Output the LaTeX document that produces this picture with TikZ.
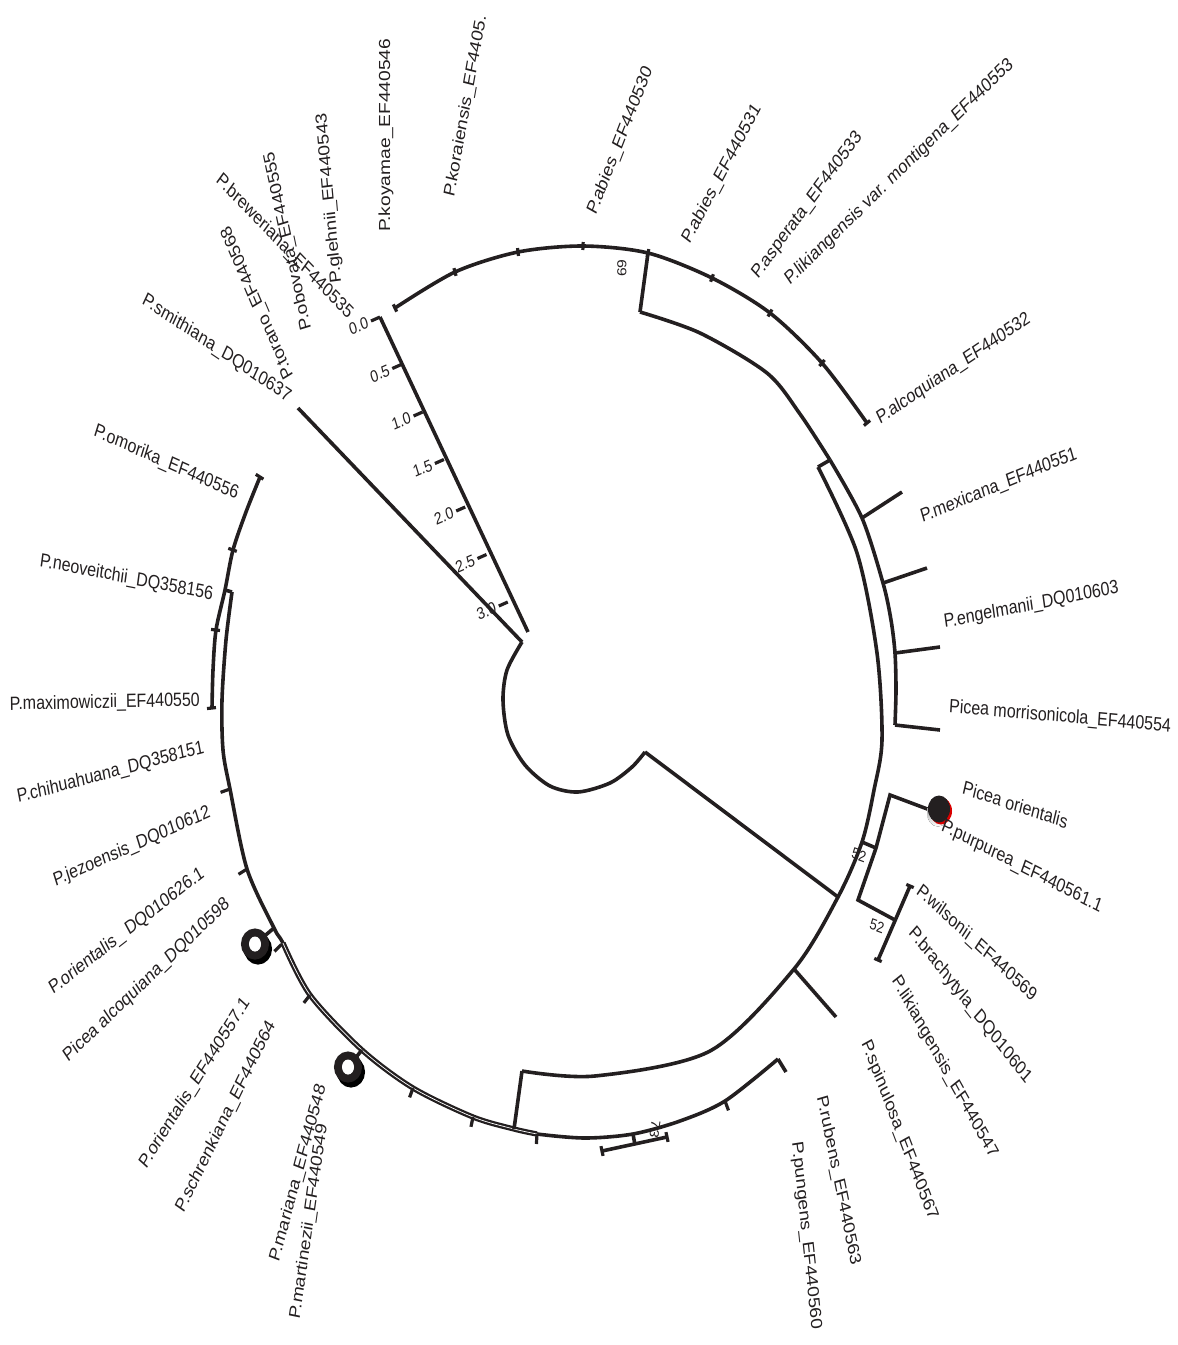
\documentclass[tikz,border=0pt]{standalone}
\usepackage{fontspec}
\setmainfont{Liberation Sans}
\usetikzlibrary{calc}
\definecolor{ink}{RGB}{35,31,32}
\definecolor{shade}{RGB}{190,190,190}

\begin{document}
\begin{tikzpicture}[x=1pt, y=-1pt,
    branch/.style={draw=ink, line width=3.6pt, line join=miter},
    tipmark/.style={draw=ink, line width=3.2pt},
    twin/.style={draw=ink, line width=2.3pt, double=white, double distance=0.7pt},
    taxon/.style={font=\fontsize{16}{16}\selectfont, text=ink, inner sep=0pt, yscale=1.2},
    boot/.style={font=\fontsize{13}{13}\selectfont, text=ink, inner sep=0pt, yscale=1.2},
    scalelab/.style={font=\fontsize{14}{14}\selectfont, text=ink, inner sep=0pt, yscale=1.2, anchor=east, rotate=20}
]
\useasboundingbox (0,0) rectangle (1178,1345);
\coordinate (ctr) at (565,670);

% top clade
\coordinate (t1) at (395,308);
\coordinate (t2) at (455,272);
\coordinate (t3) at (518,252);
\coordinate (t4) at (583,246);
\coordinate (n69) at (648,253);
\coordinate (t5) at (712,278);
\coordinate (t6) at (770,313);
\coordinate (t7) at (822,363);
\coordinate (t8) at (867,423);
\draw[branch] plot[smooth] coordinates {(t1) (t2) (t3) (t4) (n69) (t5) (t6) (t7) (t8)};
\foreach \p in {t1,t2,t3,t4,n69,t5,t6,t7,t8}
  \draw[tipmark] ($(\p)!4pt!(ctr)$) -- ($(\p)!-4pt!(ctr)$);

\coordinate (c69) at (640,312);
\coordinate (k1) at (830,460);
\coordinate (k2) at (818,467);
\draw[branch] (n69) -- (c69);
\draw[branch] plot[smooth] coordinates {(c69) (700,333) (767,373) (800,414) (k1)};
\draw[branch] (k1) -- (k2);

% mexicana group
\coordinate (m1) at (862,518);
\coordinate (m2) at (883,583);
\coordinate (m3) at (895,653);
\coordinate (m4) at (895,725);
\draw[branch] plot[smooth] coordinates {(k1) (m1) (m2) (891,620) (m3) (896,690) (m4)};
\draw[branch] (m4) -- (940,730);
\draw[branch] (m1) -- (902,492);
\draw[branch] (m2) -- (927,568);
\draw[branch] (m3) -- (940,647);

% main arc, right side
\coordinate (a52) at (862,842);
\coordinate (aj) at (838,897);
\coordinate (asp) at (794,969);
\coordinate (acor) at (522,1071);
\draw[branch] plot[smooth] coordinates {(k2) (857,553) (877,653) (882,740) (874,790) (a52) (aj) (asp) (710,1051) (595,1076) (acor)};

% purpurea / wilsonii group
\coordinate (b1) at (890,795);
\coordinate (b2) at (876,848);
\coordinate (b3) at (858,900);
\coordinate (dot) at (939,809);
\coordinate (w0) at (895,920);
\coordinate (w1) at (910,886);
\coordinate (w2) at (878,960);
\draw[branch] (930,810) -- (b1) -- (b2) -- (b3) -- (w0);
\draw[branch] (a52) -- (b2);
\draw[branch] (w1) -- (w2);
\foreach \a/\b in {w1/w2,w2/w1}
  \draw[tipmark] ($(\a)!4pt!90:(\b)$) -- ($(\a)!-4pt!90:(\b)$);
\fill[shade] ($(dot)+(-1,4)$) ellipse [x radius=11pt, y radius=13.5pt];
\fill[red!85!black] ($(dot)+(2,2)$) ellipse [x radius=11pt, y radius=13.5pt];
\fill[ink] (dot) ellipse [x radius=11pt, y radius=13.5pt];

% spinulosa
\draw[branch] (asp) -- (836,1017);

% root
\coordinate (ir0) at (522,642);
\coordinate (ie) at (645,752);
\coordinate (sm) at (298,408);
\draw[branch] plot[smooth] coordinates {(ir0) (507,670) (503,700) (508,735) (525,765) (550,786) (578,792) (610,783) (632,767) (ie)};
\draw[branch] (sm) -- (ir0);
\draw[branch] (ie) -- (aj);

% scale bar
\coordinate (sb0) at (380,317);
\coordinate (sb1) at (528,632);
\draw[branch] (sb0) -- (sb1);
\foreach \k/\v in {0/0.0,1/0.5,2/1.0,3/1.5,4/2.0,5/2.5,6/3.0} {
  \coordinate (sk\k) at ($(sb0)+(21.3*\k,47.5*\k)$);
  \draw[tipmark] (sk\k) -- ++(-9,4);
  \node[scalelab] (sl\k) at ($(sk\k)+(-12,5)$) {\v};
}

% left clades
\coordinate (o1) at (260,477);
\coordinate (o2) at (233,550);
\coordinate (bx1) at (225,590);
\coordinate (o3) at (216,630);
\coordinate (o4) at (212,708);
\coordinate (bx2) at (232,592);
\draw[branch] plot[smooth] coordinates {(o1) (246,512) (o2) (bx1) (o3) (213,670) (o4)};
\draw[branch] (bx1) -- (bx2);
\foreach \p in {o1,o2,o3,o4}
  \draw[tipmark] ($(\p)!4pt!(ctr)$) -- ($(\p)!-5pt!(ctr)$);

\coordinate (lt1) at (230,789);
\coordinate (lt2) at (247,869);
\coordinate (lm1) at (274,928);
\coordinate (ld) at (283,943);
\coordinate (lt3) at (310,995);
\coordinate (lm2) at (362,1050);
\coordinate (lt4) at (413,1088);
\coordinate (lt5) at (473,1117);
\coordinate (lv) at (514,1129);
\coordinate (lt6) at (537,1134);
\coordinate (n73) at (633,1134);
\coordinate (lt7) at (725,1101);
\coordinate (lend) at (778,1059);
\draw[branch] plot[smooth] coordinates {(bx2) (226,640) (222,700) (223,750) (lt1) (lt2) (lm1) (ld) (lt3) (lm2) (lt4) (lt5) (lv) (lt6) (585,1138) (n73) (680,1121) (lt7) (lend)};
\draw[twin] plot[smooth] coordinates {(ld) (lt3) (lm2) (lt4) (lt5) (lv) (lt6)};
\draw[branch] (lend) -- (786,1072);
\draw[branch] (acor) -- (lv);
\foreach \p in {lt1,lt2,lt3,lt4,lt5,lt6,lt7}
  \draw[tipmark] (\p) -- ($(\p)!-10pt!(ctr)$);
\draw[tipmark] ($(ld)!-2pt!(ctr)$) -- ($(ld)!-12pt!(ctr)$);

% 73 bar
\coordinate (q1) at (602,1151);
\coordinate (q2) at (667,1137);
\draw[branch] (n73) -- (635,1145);
\draw[branch] (q1) -- (q2);
\foreach \a/\b in {q1/q2,q2/q1}
  \draw[tipmark] ($(\a)!5pt!90:(\b)$) -- ($(\a)!-5pt!90:(\b)$);

% open markers
\coordinate (circ1) at (255,944);
\coordinate (circ2) at (348,1067);
\draw[branch] (lm1) -- (circ1);
\draw[branch] (lm2) -- (circ2);
\foreach \c in {circ1,circ2} {
  \draw[shade, line width=8pt] ($(\c)+(3,5)$) ellipse [x radius=10pt, y radius=11.5pt];
  \draw[ink, line width=8pt] (\c) ellipse [x radius=10pt, y radius=11.5pt];
  \fill[white] (\c) ellipse [x radius=6pt, y radius=7.5pt];
}

% support values
\node[boot, rotate=90] (s69) at (622,268) {69};
\node[boot, rotate=-17] (s52a) at (859,855) {52};
\node[boot, rotate=-17] (s52b) at (877,926) {52};
\node[boot, rotate=-100] (s73) at (655,1129) {73};

% taxa, outward reading
\node[taxon, anchor=west, rotate=90] (koyamae) at (386,232) {P.koyamae\_EF440546};
\node[taxon, anchor=west, rotate=78] (koraiensis) at (450,197) {P.koraiensis\_EF4405.};
\node[taxon, anchor=west, rotate=65] (abiesa) at (592,214) {P.abies\_EF440530};
\node[taxon, anchor=west, rotate=57.6] (abiesb) at (686,242) {P.abies\_EF440531};
\node[taxon, anchor=west, rotate=48.7] (asperata) at (755,277) {P.asperata\_EF440533};
\node[taxon, anchor=west, rotate=39.2] (montigena) at (787,282) {P.likiangensis var. montigena\_EF440553};
\node[taxon, anchor=west, rotate=29.4] (alcoqa) at (878,420) {P.alcoquiana\_EF440532};
\node[taxon, anchor=west, rotate=19] (mexicana) at (921,518) {P.mexicana\_EF440551};
\node[taxon, anchor=west, rotate=9.5] (engelmanii) at (944,623) {P.engelmanii\_DQ010603};
\node[taxon, anchor=west, rotate=-4.3] (morrison) at (949,707) {Picea morrisonicola\_EF440554};
\node[taxon, anchor=west, rotate=-15.6] (orientc) at (963,787) {Picea orientalis};
\node[taxon, anchor=west, rotate=-23.3] (purpurea) at (942,826) {P.purpurea\_EF440561.1};
\node[taxon, anchor=west, rotate=-37.9] (wilsonii) at (918,889) {P.wilsonii\_EF440569};
\node[taxon, anchor=west, rotate=-46.9] (brachy) at (911,930) {P.brachytyla\_DQ010601};
\node[taxon, anchor=west, rotate=-56.4] (likiang) at (895,978) {P.likiangensis\_EF440547};
\node[taxon, anchor=west, rotate=-65.3] (spinulosa) at (865,1041) {P.spinulosa\_EF440567};
\node[taxon, anchor=west, rotate=-76.3] (rubens) at (821,1096) {P.rubens\_EF440563};
\node[taxon, anchor=west, rotate=-82.8] (pungens) at (796,1142) {P.pungens\_EF440560};
\node[taxon, anchor=west, rotate=96] (glehnii) at (337,283) {P.glehnii\_EF440543};
\node[taxon, anchor=west, rotate=104.3] (obovata) at (307,330) {P.obovata\_EF440555};
\node[taxon, anchor=west, rotate=117] (torano) at (290,378) {P.torano\_EF440568};
\node[taxon, anchor=west, rotate=-40.8] (breweriana) at (218,178) {P.breweriana\_EF440535};

% taxa, inward reading
\node[taxon, anchor=east, rotate=-29.3] (smithiana) at (290,398) {P.smithiana\_DQ010637};
\node[taxon, anchor=east, rotate=-20.4] (omorika) at (238,495) {P.omorika\_EF440556};
\node[taxon, anchor=east, rotate=-9.2] (neoveitchii) at (213,595) {P.neoveitchii\_DQ358156};
\node[taxon, anchor=east, rotate=1] (maximow) at (200,701) {P.maximowiczii\_EF440550};
\node[taxon, anchor=east, rotate=12.6] (chihuahuana) at (204,748) {P.chihuahuana\_DQ358151};
\node[taxon, anchor=east, rotate=20.4] (jezoensis) at (210,812) {P.jezoensis\_DQ010612};
\node[taxon, anchor=east, rotate=33] (orienta) at (203,872) {P.orientalis\_ DQ010626.1};
\node[taxon, anchor=east, rotate=38.8] (alcoqb) at (228,902) {Picea alcoquiana\_DQ010598};
\node[taxon, anchor=east, rotate=53.1] (orientb) at (247,1000) {P.orientalis\_EF440557.1};
\node[taxon, anchor=east, rotate=59.7] (schrenk) at (272,1022) {P.schrenkiana\_EF440564};
\node[taxon, anchor=east, rotate=72.2] (mariana) at (322,1085) {P.mariana\_EF440548};
\node[taxon, anchor=east, rotate=80.4] (martinezii) at (323,1124) {P.martinezii\_EF440549};
\end{tikzpicture}
\end{document}
